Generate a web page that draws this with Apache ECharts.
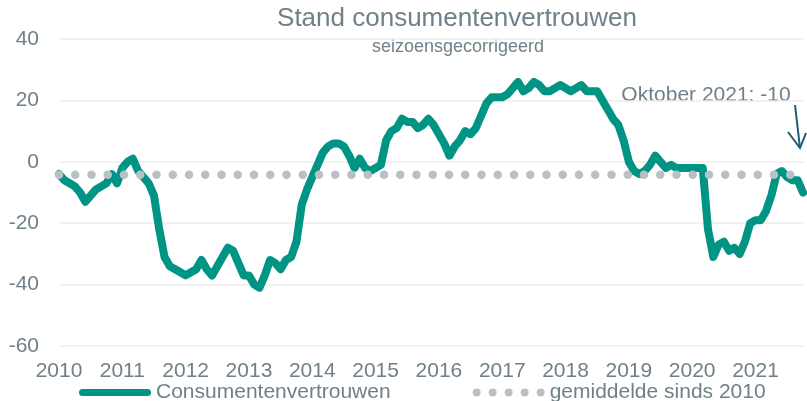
<!DOCTYPE html>
<html>
<head>
<meta charset="utf-8">
<title>Stand consumentenvertrouwen</title>
<script src="https://cdn.jsdelivr.net/npm/echarts/dist/echarts.min.js"></script>
<style>
  html, body { margin: 0; padding: 0; background: #ffffff; }
  #chart { width: 807px; height: 401px; }
</style>
</head>
<body>
<div id="chart"></div>
<script>
// years shown on the x axis (one label per January)
const years = [2010, 2011, 2012, 2013, 2014, 2015, 2016, 2017, 2018, 2019, 2020, 2021];

// consumer confidence, seasonally adjusted, monthly Jan 2010 - Oct 2021
const conf2010 = [-4, -6, -7, -8, -10, -13, -11, -9, -8, -7, -4, -7];
const conf2011 = [-2, 0, 1, -3, -5, -7, -11, -22, -31, -34, -35, -36];
const conf2012 = [-37, -36, -35, -32, -35, -37, -34, -31, -28, -29, -33, -37];
const conf2013 = [-37, -40, -41, -37, -32, -33, -35, -32, -31, -26, -14, -9];
const conf2014 = [-5, -1, 3, 5, 6, 6, 5, 2, -2, 1, -2, -3];
const conf2015 = [-2, -1, 7, 10, 11, 14, 13, 13, 11, 12, 14, 12];
const conf2016 = [9, 6, 2, 5, 7, 10, 9, 11, 15, 19, 21, 21];
const conf2017 = [21, 22, 24, 26, 23, 24, 26, 25, 23, 23, 24, 25];
const conf2018 = [24, 23, 24, 25, 23, 23, 23, 20, 17, 14, 12, 7];
const conf2019 = [0, -3, -4, -3, -1, 2, 0, -2, -1, -2, -2, -2];
const conf2020 = [-2, -2, -2, -22, -31, -27, -26, -29, -28, -30, -26, -20];
const conf2021 = [-19, -19, -16, -11, -4, -3, -5, -6, -6, -10];

// average since 2010
const average = -4.2;

const confidence = [].concat(conf2010, conf2011, conf2012, conf2013, conf2014, conf2015,
  conf2016, conf2017, conf2018, conf2019, conf2020, conf2021);

// month categories "2010-01" ... "2021-10"
const months = [];
years.forEach(y => {
  for (let m = 1; m <= 12; m++) months.push(y + '-' + String(m).padStart(2, '0'));
});
months.length = confidence.length;

const teal = '#009485';
const dotGrey = '#b9c0c4';
const textGrey = '#6f8089';
const font = '"Liberation Sans", Arial, sans-serif';

// legend icons (72 x 8 box): a capsule for the thick line, five dots for the dotted one
const capsuleIcon = 'path://M0,0 M72,8 M3.5,0.5 L68.5,0.5 A3.5,3.5 0 0 1 68.5,7.5 L3.5,7.5 A3.5,3.5 0 0 1 3.5,0.5 Z';
const dotsIcon = 'path://M0,0 M72,8 ' + [4, 20, 36, 52, 68].map(cx =>
  'M' + (cx - 4) + ',4 A4,4 0 1 0 ' + (cx + 4) + ',4 A4,4 0 1 0 ' + (cx - 4) + ',4 Z'
).join(' ');

const chart = echarts.init(document.getElementById('chart'));

const option = {
  animation: false,
  textStyle: { fontFamily: font },
  grid: { left: 59, right: 4, top: 39, bottom: 55, containLabel: false },
  xAxis: {
    type: 'category',
    data: months,
    boundaryGap: false,
    axisLine: { show: false },
    axisTick: { show: false },
    splitLine: { show: false },
    axisLabel: {
      interval: (idx) => idx % 12 === 0,
      formatter: (v) => v.slice(0, 4),
      color: textGrey,
      fontSize: 21,
      margin: 15
    }
  },
  yAxis: {
    type: 'value',
    min: -60,
    max: 40,
    interval: 20,
    axisLine: { show: false },
    axisTick: { show: false },
    axisLabel: { color: textGrey, fontSize: 21, margin: 20 },
    splitLine: { lineStyle: { color: '#ececec', width: 1.5 } }
  },
  legend: {
    left: 74,
    top: 377,
    itemWidth: 72,
    itemHeight: 8,
    itemGap: 82,
    textStyle: { color: textGrey, fontSize: 21, fontFamily: font },
    data: [
      { name: 'Consumentenvertrouwen', icon: capsuleIcon },
      { name: 'gemiddelde sinds 2010', icon: dotsIcon }
    ]
  },
  series: [
    {
      name: 'Consumentenvertrouwen',
      type: 'line',
      data: confidence,
      symbol: 'none',
      color: teal,
      lineStyle: { color: teal, width: 8, cap: 'round', join: 'round' }
    },
    {
      name: 'gemiddelde sinds 2010',
      type: 'line',
      data: [[0, average], [confidence.length - 1, average]],
      symbol: 'none',
      color: dotGrey,
      lineStyle: { color: dotGrey, width: 8.5, type: [0, 16.25], cap: 'round' }
    }
  ],
  graphic: [
    {
      type: 'text', x: 457, y: 19,
      style: { text: 'Stand consumentenvertrouwen', fill: textGrey, font: '26px ' + font, align: 'center', verticalAlign: 'middle' }
    },
    {
      type: 'text', x: 458, y: 47,
      style: { text: 'seizoensgecorrigeerd', fill: textGrey, font: '18px ' + font, align: 'center', verticalAlign: 'middle' }
    },
    {
      type: 'text', x: 706, y: 95,
      style: { text: 'Oktober 2021: -10', fill: textGrey, font: '21px ' + font, align: 'center', verticalAlign: 'middle' }
    },
    // arrow pointing at the last value
    {
      type: 'line',
      shape: { x1: 795, y1: 105, x2: 800, y2: 148 },
      style: { stroke: '#1d5b78', lineWidth: 2 }
    },
    {
      type: 'polyline',
      shape: { points: [[788, 132], [800, 148], [806, 133]] },
      style: { stroke: '#1d5b78', lineWidth: 2, fill: null }
    }
  ]
};

chart.setOption(option);
</script>
</body>
</html>
